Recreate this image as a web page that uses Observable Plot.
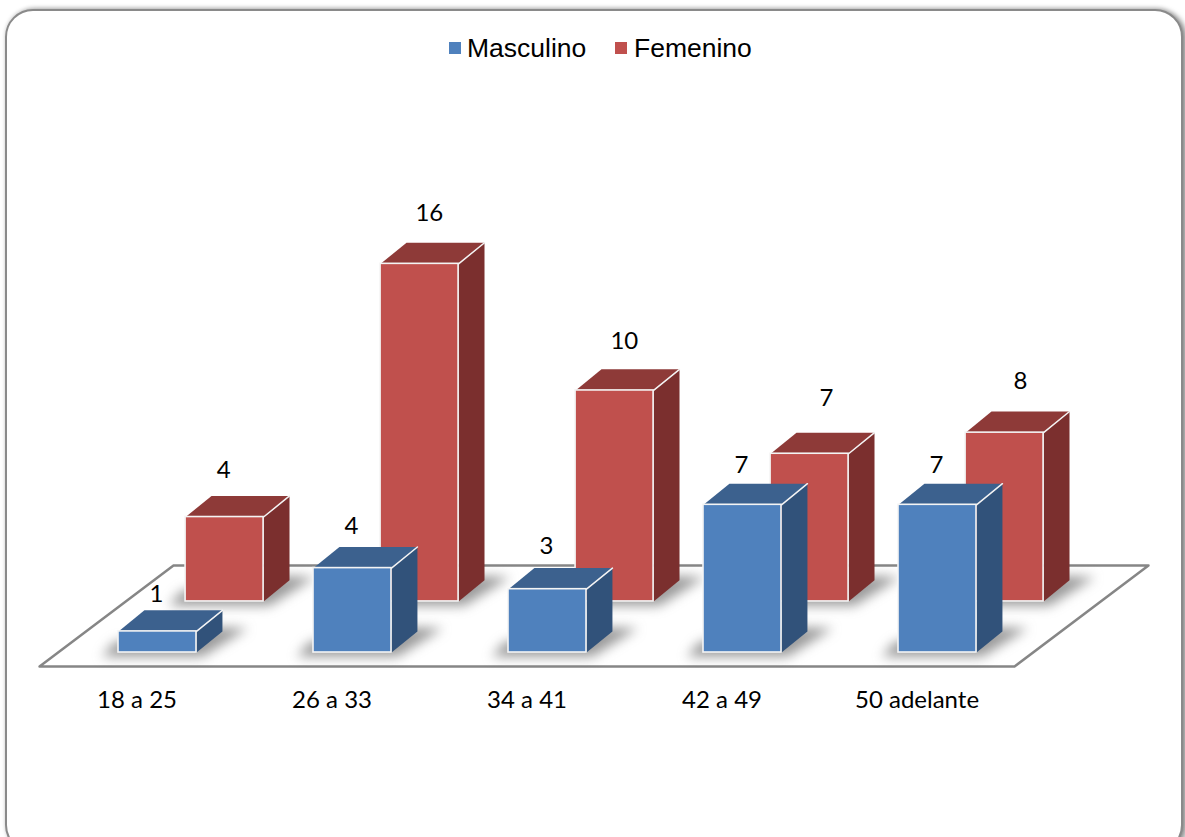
<!DOCTYPE html>
<html lang="es">
<head>
<meta charset="utf-8">
<title>Masculino y Femenino por edad</title>
<script src="https://cdn.jsdelivr.net/npm/d3@7"></script>
<script src="https://cdn.jsdelivr.net/npm/@observablehq/plot@0.6"></script>
<style>
  html, body { margin: 0; background: #fff; }
  #card { position: relative; width: 1185px; height: 837px; overflow: hidden; background: #fff; }
  #border {
    position: absolute; left: 5px; top: 9px; width: 1174px; height: 840px;
    border: 2px solid #8a8a8a; border-radius: 28px;
    box-shadow: 1px -1px 4px rgba(0,0,0,.25), 4px 2px 6px rgba(0,0,0,.35);
    background: #fff;
  }
  #legend {
    position: relative; height: 70px; font: 26.5px "Liberation Sans", Arial, sans-serif; color: #000;
  }
  #legend span { position: absolute; top: 33px; line-height: 30px; white-space: nowrap; }
  #legend i { position: absolute; top: 42px; width: 12px; height: 12px; }
  #chart { position: relative; display: block; }
  svg { display: block; }
</style>
</head>
<body>
<div id="card">
  <div id="border"></div>
  <div id="legend"></div>
  <div id="chart"></div>
</div>
<script>
// Personas por grupo de edad y sexo
const ageGroups = ["18 a 25", "26 a 33", "34 a 41", "42 a 49", "50 adelante"];
const masculino = [1, 4, 3, 7, 7];
const femenino = [4, 16, 10, 7, 8];

// Small shifts (value units along x, y) that lift each value label off its column
const labelShiftMasculino = [[-0.005, 1.75], [-0.005, 2], [-0.005, 2.05], [-0.005, 1.85], [-0.005, 1.85]];
const labelShiftFemenino = [[-0.005, 2.2], [0.05, 2.4], [0.05, 2.35], [0.087, 2.65], [0.082, 2.45]];

const palette = {
  Masculino: {front: "#4f81bd", side: "#31527a", top: "#3c618e"},
  Femenino: {front: "#c0504d", side: "#7b2f2e", top: "#8e3a38"}
};

// Oblique projection expressed in scale units
const barWidth = 0.4;
const depthX = 0.133, depthY = 1;
const rowOffset = {Masculino: [0, 0], Femenino: [0.344, 2.42]};

const bars = [
  ...masculino.map((value, i) => ({series: "Masculino", i, value})),
  ...femenino.map((value, i) => ({series: "Femenino", i, value}))
].map((d) => ({...d, x0: d.i + rowOffset[d.series][0], y0: rowOffset[d.series][1]}));

const polygon = (id, pts) => pts.map(([u, v]) => ({id, u, v}));

const sideFace = (d) => polygon(`side-${d.series}-${d.i}`, [
  [d.x0 + barWidth, d.y0],
  [d.x0 + barWidth + depthX, d.y0 + depthY],
  [d.x0 + barWidth + depthX, d.y0 + d.value + depthY],
  [d.x0 + barWidth, d.y0 + d.value]
]);
const topFace = (d) => polygon(`top-${d.series}-${d.i}`, [
  [d.x0, d.y0 + d.value],
  [d.x0 + depthX, d.y0 + d.value + depthY],
  [d.x0 + barWidth + depthX, d.y0 + d.value + depthY],
  [d.x0 + barWidth, d.y0 + d.value]
]);
const shadow = (d) => polygon(`shadow-${d.series}-${d.i}`, [
  [d.x0 - 0.085, d.y0 - 0.2],
  [d.x0 + barWidth + 0.03, d.y0 - 0.2],
  [d.x0 + barWidth + depthX + 0.13, d.y0 + depthY + 0.15],
  [d.x0 + barWidth + depthX - 0.02, d.y0 + depthY + 0.2],
  [d.x0 - 0.02, d.y0 + 0.5]
]);
const topEdge = (d) => polygon(`edge-${d.series}-${d.i}`, [
  [d.x0 + barWidth, d.y0 + d.value],
  [d.x0 + barWidth + depthX, d.y0 + d.value + depthY]
]);

const floor = polygon("floor", [[-0.405, -0.664], [0.282, 4.123], [5.282, 4.123], [4.595, -0.664]]);

const closed = {x: "u", y: "v", z: "id", curve: "linear-closed"};

// One painter's-order layer per series: shadows, side and top faces, then the front
function seriesLayer(series) {
  const rows = bars.filter((d) => d.series === series);
  const c = palette[series];
  return [
    Plot.line(rows.flatMap(shadow), {...closed, fill: "#666", stroke: "none", fillOpacity: 0.65, imageFilter: "blur(6px)"}),
    ...rows.map((d) => [
      Plot.line(sideFace(d), {...closed, fill: c.side, stroke: "none"}),
      Plot.line(topFace(d), {...closed, fill: c.top, stroke: "none"}),
      Plot.line(topEdge(d), {x: "u", y: "v", stroke: "#f4f4f4", strokeWidth: 1.5}),
      Plot.rect([d], {
        x1: (r) => r.x0, x2: (r) => r.x0 + barWidth,
        y1: (r) => r.y0, y2: (r) => r.y0 + r.value,
        fill: c.front, stroke: "#f4f4f4", strokeWidth: 1.6
      })
    ])
  ];
}

const valueLabels = bars.map((d) => {
  const [dx, dy] = (d.series === "Masculino" ? labelShiftMasculino : labelShiftFemenino)[d.i];
  return {text: String(d.value), u: d.x0 + barWidth / 2 + dx, v: d.y0 + d.value + dy};
});

const labelFont = {fontFamily: "Lato, Carlito, Calibri, sans-serif", fontSize: 24, fill: "#000", stroke: "none"};

const chart = Plot.plot({
  width: 1185,
  height: 767,
  margin: 0,
  style: {background: "transparent", overflow: "visible"},
  x: {type: "linear", domain: [0, 5], range: [118, 1093], axis: null},
  y: {type: "linear", domain: [0, 16], range: [582, 244.4], axis: null},
  marks: [
    Plot.line(floor, {...closed, fill: "#fff", stroke: "#868686", strokeWidth: 2.5}),
    ...seriesLayer("Femenino"),
    ...seriesLayer("Masculino"),
    Plot.text(valueLabels, {x: "u", y: "v", text: "text", ...labelFont}),
    Plot.text(ageGroups, {x: (_, i) => i + 0.095, y: () => -2.27, text: (d) => d, ...labelFont})
  ]
});
document.getElementById("chart").append(chart);

// Legend above the plot
const legend = document.getElementById("legend");
[["Masculino", 449, 467], ["Femenino", 615, 634]].forEach(([name, swatchLeft, textLeft]) => {
  const swatch = document.createElement("i");
  swatch.style.left = swatchLeft + "px";
  swatch.style.background = palette[name].front;
  const label = document.createElement("span");
  label.style.left = textLeft + "px";
  label.textContent = name;
  legend.append(swatch, label);
});
</script>
</body>
</html>
